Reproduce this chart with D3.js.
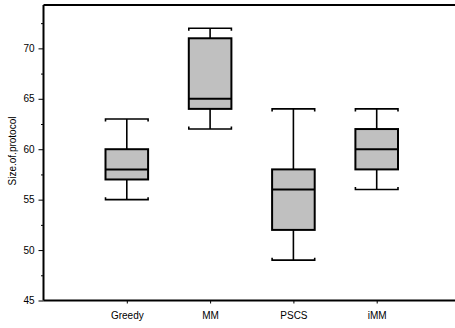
<!DOCTYPE html>
<html><head><meta charset="utf-8">
<script src="https://cdn.jsdelivr.net/npm/d3@7"></script>
<style>body{margin:0;background:#fff}svg{display:block}text{font-family:"Liberation Sans",Arial,sans-serif}</style>
</head><body>
<svg id="c" width="455" height="328"></svg>
<script>
const categories = ["Greedy","MM","PSCS","iMM"];
const whiskerLow = [55,62,49,56];
const q1 = [57,64,52,58];
const median = [58,65,56,60];
const q3 = [60,71,58,62];
const whiskerHigh = [63,72,64,64];
const yMajorTicks = [45,50,55,60,65,70];
const yMinorTicks = [47.5,52.5,57.5,62.5,67.5,72.5];

const svg = d3.select("#c");
const x = d3.scaleLinear().domain([0,5]).range([43.5,460]);
const y = d3.scaleLinear().domain([45,74.3]).range([300.5,5]);
const bw = 42.6;

svg.append("line").attr("x1",43.5).attr("x2",455).attr("y1",y(74.3)).attr("y2",y(74.3)).attr("stroke","#000").attr("stroke-width",2);

const yAxis = svg.append("g").attr("transform","translate(43.5,0)")
  .call(d3.axisLeft(y).tickValues(yMajorTicks).tickSize(5).tickPadding(4).tickFormat(d3.format("d")));
yAxis.select(".domain").attr("stroke-width",2).attr("d",`M0,${y(45)}V${y(74.3)}`);
yAxis.selectAll("text").attr("font-size",10).attr("fill","#000").attr("font-family","Liberation Sans, Arial, sans-serif");
yAxis.selectAll(".tick line").attr("stroke-width",1);
const yMinor = svg.append("g").attr("transform","translate(43.5,0)")
  .call(d3.axisLeft(y).tickValues(yMinorTicks).tickSize(2.5).tickFormat(""));
yMinor.select(".domain").remove();

const xAxis = svg.append("g").attr("transform",`translate(0,${y(45)})`)
  .call(d3.axisBottom(x).tickValues([1,2,3,4]).tickSize(3).tickPadding(8).tickFormat((d,i)=>categories[i]));
xAxis.select(".domain").attr("stroke-width",2).attr("d",`M43.5,0H455`);
xAxis.selectAll("text").attr("font-size",10).attr("fill","#000").attr("font-family","Liberation Sans, Arial, sans-serif");

svg.append("text").attr("transform",`translate(16,${151}) rotate(-90)`).attr("text-anchor","middle")
  .attr("font-size",10).text("Size.of.protocol");

const g = svg.append("g");
categories.forEach((c,i)=>{
  const cx = x(i+1);
  const l = cx-bw/2, r = cx+bw/2;
  g.append("line").attr("x1",cx).attr("x2",cx).attr("y1",y(q3[i])).attr("y2",y(whiskerHigh[i])).attr("stroke","#000").attr("stroke-width",1.6);
  g.append("line").attr("x1",cx).attr("x2",cx).attr("y1",y(q1[i])).attr("y2",y(whiskerLow[i])).attr("stroke","#000").attr("stroke-width",1.6);
  const th = y(whiskerHigh[i]), tl = y(whiskerLow[i]);
  g.append("path").attr("d",`M${l},${th+2.5}V${th}H${r}V${th+2.5}`).attr("fill","none").attr("stroke","#000").attr("stroke-width",1.6);
  g.append("path").attr("d",`M${l},${tl-2.5}V${tl}H${r}V${tl-2.5}`).attr("fill","none").attr("stroke","#000").attr("stroke-width",1.6);
  g.append("rect").attr("x",l).attr("y",y(q3[i])).attr("width",bw).attr("height",y(q1[i])-y(q3[i]))
    .attr("fill","#c0c0c0").attr("stroke","#000").attr("stroke-width",2);
  g.append("line").attr("x1",l).attr("x2",r).attr("y1",y(median[i])).attr("y2",y(median[i])).attr("stroke","#000").attr("stroke-width",2);
});
</script>
</body></html>
